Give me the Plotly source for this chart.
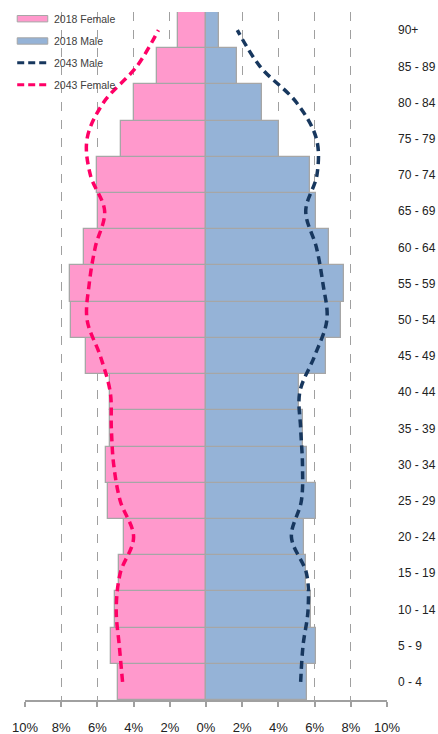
import plotly.graph_objects as go

age_groups = ["0 - 4", "5 - 9", "10 - 14", "15 - 19", "20 - 24", "25 - 29", "30 - 34",
              "35 - 39", "40 - 44", "45 - 49", "50 - 54", "55 - 59", "60 - 64",
              "65 - 69", "70 - 74", "75 - 79", "80 - 84", "85 - 89", "90+"]
female_2018 = [4.87, 5.23, 5.05, 4.83, 4.55, 5.44, 5.51, 5.33, 5.29, 6.61, 7.44, 7.53,
               6.76, 5.95, 6.02, 4.68, 4.00, 2.70, 1.56]
male_2018 = [5.58, 6.06, 5.79, 5.51, 5.40, 6.10, 5.58, 5.36, 5.14, 6.65, 7.48, 7.60,
             6.78, 6.10, 5.73, 4.02, 3.07, 1.71, 0.73]
female_2043 = [4.61, 4.79, 4.96, 4.74, 4.00, 4.74, 5.10, 5.23, 5.29, 5.84, 6.57, 6.45,
               6.12, 5.60, 6.39, 6.57, 5.66, 3.82, 2.63]
male_2043 = [5.23, 5.36, 5.64, 5.55, 4.72, 5.27, 5.33, 5.23, 5.18, 6.00, 6.68, 6.46,
             6.10, 5.51, 6.13, 6.10, 5.00, 2.98, 1.73]
x_ticks = [-10, -8, -6, -4, -2, 0, 2, 4, 6, 8, 10]
x_tick_labels = ["10%", "8%", "6%", "4%", "2%", "0%", "2%", "4%", "6%", "8%", "10%"]

PINK = "#FF99CC"
BLUE = "#95B3D7"
PINK_LINE = "#FF0066"
NAVY_LINE = "#17375E"
BORDER = "#A6A6A6"
FONT = "Liberation Sans"

fig = go.Figure()
fig.add_trace(go.Bar(y=age_groups, x=[-v for v in female_2018], orientation="h",
                     name="2018 Female", marker=dict(color=PINK, line=dict(color=BORDER, width=1.3)),
                     showlegend=False))
fig.add_trace(go.Bar(y=age_groups, x=male_2018, orientation="h",
                     name="2018 Male", marker=dict(color=BLUE, line=dict(color=BORDER, width=1.3)),
                     showlegend=False))
fig.add_trace(go.Scatter(y=age_groups, x=male_2043, mode="lines", name="2043 Male",
                         line=dict(color=NAVY_LINE, width=3.5, dash="8px,5px", shape="spline", smoothing=1),
                         showlegend=False))
fig.add_trace(go.Scatter(y=age_groups, x=[-v for v in female_2043], mode="lines", name="2043 Female",
                         line=dict(color=PINK_LINE, width=3.5, dash="8px,5px", shape="spline", smoothing=1),
                         showlegend=False))

# custom legend (paper coordinates)
L, R, T, B = 24.5, 387.0, 12.0, 700.0
W, H = R - L, B - T
def px(x):
    return (x - L) / W
def py(y):
    return 1 - (y - T) / H

legend_items = [("2018 Female", "rect", PINK), ("2018 Male", "rect", BLUE),
                ("2043 Male", "line", NAVY_LINE), ("2043 Female", "line", PINK_LINE)]
row_y = [18.7, 41.0, 62.7, 84.7]
shapes = []
annotations = []
for (label, kind, col), yy in zip(legend_items, row_y):
    if kind == "rect":
        shapes.append(dict(type="rect", xref="paper", yref="paper",
                           x0=px(16.7), x1=px(47.3), y0=py(yy - 3.2), y1=py(yy + 3.2),
                           fillcolor=col, line=dict(color=BORDER, width=1)))
    else:
        shapes.append(dict(type="line", xref="paper", yref="paper",
                           x0=px(16.7), x1=px(47.3), y0=py(yy), y1=py(yy),
                           line=dict(color=col, width=3, dash="7px,4px")))
    annotations.append(dict(text=label, xref="paper", yref="paper", x=px(52), y=py(yy),
                            xanchor="left", yanchor="middle", showarrow=False,
                            font=dict(family=FONT, size=10.5, color="#404040")))

fig.update_layout(
    width=438, height=734,
    margin=dict(l=24.5, r=51, t=12, b=34),
    paper_bgcolor="white", plot_bgcolor="white",
    barmode="overlay", bargap=0,
    showlegend=False,
    shapes=shapes, annotations=annotations,
    xaxis=dict(range=[-10, 10], tickvals=x_ticks, ticktext=x_tick_labels,
               automargin=False,
               showgrid=True, gridcolor="#A0A0A0", griddash="dash", gridwidth=1,
               zeroline=False, showline=True, linecolor="#A0A0A0", linewidth=1.5,
               ticks="outside", ticklen=5, tickcolor="#A0A0A0", tickwidth=1.5,
               ticklabelstandoff=10,
               tickfont=dict(family=FONT, size=13, color="#222222")),
    yaxis=dict(type="category", categoryorder="array", categoryarray=age_groups,
               automargin=False,
               range=[-0.5, 18.5], side="right", showgrid=False, zeroline=False,
               showline=False, ticks="", ticklabelstandoff=10,
               tickfont=dict(family=FONT, size=12, color="#222222")),
)

fig.write_html("out.html", config={"displayModeBar": False},
               post_script="document.body.style.margin='0';document.body.style.overflow='hidden';")
